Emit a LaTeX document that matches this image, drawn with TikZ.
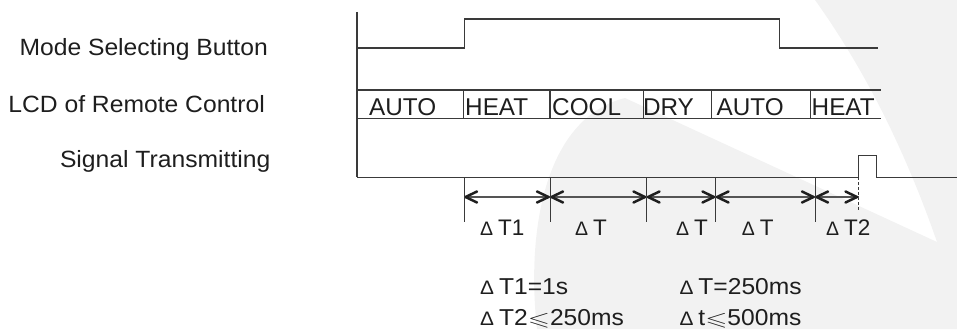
\documentclass[tikz,border=0pt]{standalone}
\usepackage{fontspec}
\usepackage{amssymb}
\setmainfont{Liberation Sans}
\newfontfamily\labfont[FakeStretch=1.05]{Liberation Sans}
\newfontfamily\notefont[FakeStretch=1.07]{Liberation Sans}
\definecolor{ink}{HTML}{1E1E1E}
\definecolor{wire}{HTML}{3A3A3A}
\definecolor{spanc}{HTML}{555555}
\definecolor{wm}{HTML}{F2F2F2}
\newcommand\dlt{{\fontsize{19.5}{20}\selectfont Δ}\kern5pt}
\newcommand\lesl{\scalebox{1.5}[1.0]{\fontsize{19}{20}\selectfont$\leqslant$}}
\begin{document}
\begin{tikzpicture}[x=1pt,y=-1pt,
  lab/.style={font=\labfont\fontsize{23.5}{26}\selectfont, text=ink, inner sep=0pt, anchor=base east},
  lcd/.style={font=\fontsize{24.3}{26}\selectfont, text=ink, inner sep=0pt, anchor=base west},
  dim/.style={font=\fontsize{22.5}{24}\selectfont, text=ink, inner sep=0pt, anchor=base west},
  note/.style={font=\notefont\fontsize{23}{26}\selectfont, text=ink, inner sep=0pt, anchor=base west},
  wave/.style={draw=wire, line width=1.2pt},
  tickline/.style={draw=wire, line width=0.9pt},
  span/.style={draw=spanc, line width=1.1pt},
  chev/.style={draw=ink, line width=2.5pt, line cap=round, line join=round}
]
\useasboundingbox (0,0) rectangle (957,329);
% watermark
\fill[wm] (537,329) .. controls (526,230) and (545,118) .. (625,98)
  -- (937,242) .. controls (905,150) and (865,70) .. (815,0)
  -- (957,0) -- (957,329) -- cycle;

% row labels
\node[lab] (lmode) at (268,56) {Mode Selecting Button};
\node[lab] (llcd) at (265,112.5) {LCD of Remote Control};
\node[lab] (lsig) at (270.5,167.5) {Signal Transmitting};

% left vertical axis
\coordinate (axtop) at (357,12);
\coordinate (axbot) at (357,177.3);
\draw[wave] (axtop) -- (axbot);

% mode selecting button waveform
\draw[wave] (357,48) -- (464.3,48) -- (464.3,19) -- (779.3,19) -- (779.3,48) -- (878,48);

% LCD strip
\draw[wave] (357,90) -- (880.7,90);
\draw[wave] (357,118.5) -- (880.7,118.5);
\foreach \x in {463.3,550,643.3,711.3,810.7}
  \draw[wave] (\x,90) -- (\x,118.5);
\node[lcd] (m1) at (369,115.7) {AUTO};
\node[lcd] (m2) at (465,115.7) {HEAT};
\node[lcd] (m3) at (552,115.7) {COOL};
\node[lcd] (m4) at (642.8,115.7) {DRY};
\node[lcd] (m5) at (716.5,115.7) {AUTO};
\node[lcd] (m6) at (811.5,115.7) {HEAT};

% signal transmitting waveform
\draw[wave] (axbot) -- (858.5,177.3) -- (858.5,155.7) -- (876.5,155.7) -- (876.5,177.3) -- (957,177.3);

% ticks
\foreach \n/\x in {0/464,1/550,2/646.5,3/715.5,4/815}{
  \coordinate (k\n) at (\x,177.3);
  \coordinate (b\n) at (\x,221.5);
  \coordinate (t\n) at (\x,197);
  \draw[tickline] (k\n) -- (b\n);
}
\coordinate (k5) at (858.5,177.3);
\coordinate (b5) at (858.5,212);
\coordinate (t5) at (858.5,197);
\draw[tickline, dash pattern=on 3pt off 2pt] (k5) -- (b5);

% spans with open chevron heads at both ends
\foreach \a/\b in {t0/t1,t1/t2,t2/t3,t3/t4,t4/t5}{
  \draw[span] (\a) -- (\b);
  \draw[chev] ([shift={(13,-5.5)}]\a) -- ([shift={(1.5,0)}]\a) -- ([shift={(13,5.5)}]\a);
  \draw[chev] ([shift={(-13,-5.5)}]\b) -- ([shift={(-1.5,0)}]\b) -- ([shift={(-13,5.5)}]\b);
}

% span labels
\node[dim] (d1) at (480,235.5) {\dlt T1};
\node[dim] (d2) at (575,235.5) {\dlt T};
\node[dim] (d3) at (676,235.5) {\dlt T};
\node[dim] (d4) at (741.7,235.5) {\dlt T};
\node[dim] (d5) at (826,235.5) {\dlt T2};

% notes
\node[note] (n1) at (480,294.5) {\dlt T1=1s};
\node[note] (n2) at (480,325.5) {\dlt T2\lesl 250ms};
\node[note] (n3) at (679.3,294.5) {\dlt T=250ms};
\node[note] (n4) at (679.3,325.5) {\dlt t\lesl 500ms};
\end{tikzpicture}
\end{document}
